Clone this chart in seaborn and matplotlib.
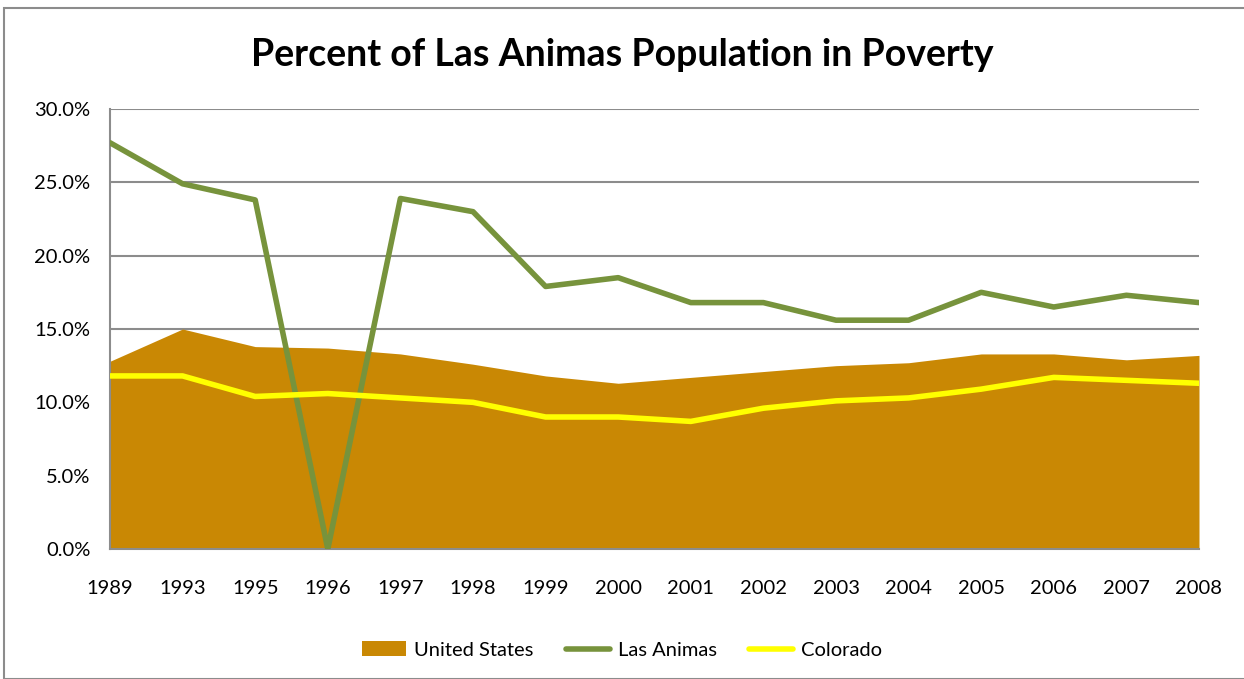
import matplotlib
matplotlib.use("Agg")
import matplotlib.pyplot as plt
from matplotlib.patches import Patch, Rectangle
from matplotlib.lines import Line2D
from matplotlib.ticker import PercentFormatter
import seaborn as sns
import pandas as pd
import numpy as np

years = ["1989", "1993", "1995", "1996", "1997", "1998", "1999", "2000",
         "2001", "2002", "2003", "2004", "2005", "2006", "2007", "2008"]
united_states = [12.8, 15.0, 13.8, 13.7, 13.3, 12.6, 11.8, 11.3,
                 11.7, 12.1, 12.5, 12.7, 13.3, 13.3, 12.9, 13.2]
las_animas = [27.7, 24.9, 23.8, 0.0, 23.9, 23.0, 17.9, 18.5,
              16.8, 16.8, 15.6, 15.6, 17.5, 16.5, 17.3, 16.8]
colorado = [11.8, 11.8, 10.4, 10.6, 10.3, 10.0, 9.0, 9.0,
            8.7, 9.6, 10.1, 10.3, 10.9, 11.7, 11.5, 11.3]

title = "Percent of Las Animas Population in Poverty"
us_color = "#C98804"
la_color = "#77933C"
co_color = "#FFFF00"

sns.set_theme(style="white")
plt.rcParams['font.family'] = ['Lato', 'DejaVu Sans']
plt.rcParams['text.color'] = 'black'

df = pd.DataFrame({"idx": np.arange(len(years)), "year": years,
                   "United States": united_states,
                   "Las Animas": las_animas, "Colorado": colorado})

fig = plt.figure(figsize=(12.44, 6.79), dpi=100)
ax = fig.add_axes([110/1244, 1-549/679, (1199-110)/1244, (549-109)/679])

ax.fill_between(df["idx"], 0, df["United States"], color=us_color, linewidth=0, zorder=2)
sns.lineplot(data=df, x="idx", y="Las Animas", color=la_color, linewidth=4, ax=ax, zorder=3)
sns.lineplot(data=df, x="idx", y="Colorado", color=co_color, linewidth=4, ax=ax, zorder=4)

ax.set_xlim(0, len(years) - 1)
ax.set_ylim(0, 30)
ax.set_yticks(np.arange(0, 30.1, 5))
ax.yaxis.set_major_formatter(PercentFormatter(decimals=1))
ax.set_xticks(df["idx"])
ax.set_xticklabels(years)
ax.set_xlabel("")
ax.set_ylabel("")
ax.grid(axis="y", color="#8C8C8C", linewidth=1.5, zorder=1)
ax.set_axisbelow(True)
for s in ["top", "right"]:
    ax.spines[s].set_visible(False)
for s in ["left", "bottom"]:
    ax.spines[s].set_color("#8C8C8C")
    ax.spines[s].set_linewidth(1.5)
ax.tick_params(axis="both", labelsize=14.5, colors="black", length=0)
ax.tick_params(axis="y", pad=14)
ax.tick_params(axis="x", pad=22)

fig.text(0.5, 1-55/679, title, ha="center", va="center", fontsize=27,
         fontweight="bold", color="black")

handles = [Patch(facecolor=us_color, edgecolor="none"),
           Line2D([0], [0], color=la_color, linewidth=4),
           Line2D([0], [0], color=co_color, linewidth=4)]
fig.legend(handles, ["United States", "Las Animas", "Colorado"],
           loc="center", bbox_to_anchor=(0.5, 1-650/679), ncol=3, frameon=False,
           fontsize=14.5, handlelength=2.2, columnspacing=1.6, handletextpad=0.4)

fig.patches.append(Rectangle((4/1244, 0), 1.2, 1-8/679, transform=fig.transFigure,
                             fill=False, edgecolor="#8C8C8C", linewidth=1.5))

fig.savefig("out.png", dpi=100)
